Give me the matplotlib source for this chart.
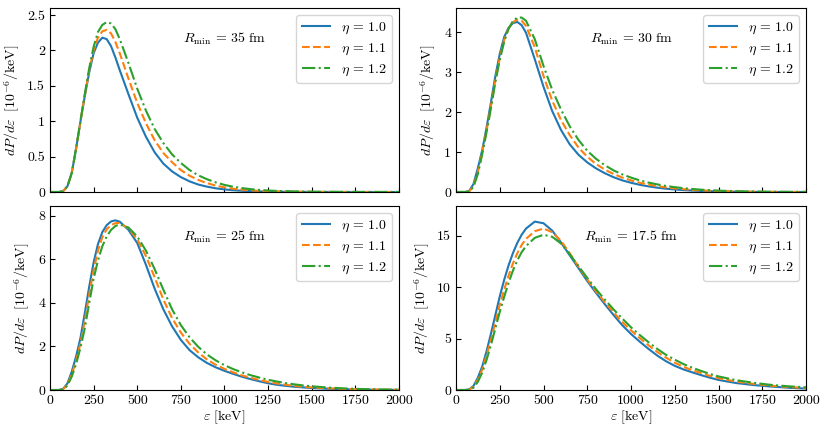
import matplotlib
matplotlib.use('Agg')
import matplotlib.pyplot as plt
from matplotlib.ticker import MultipleLocator, FuncFormatter

# computer modern look
plt.rcParams['mathtext.fontset'] = 'cm'
plt.rcParams['font.family'] = 'serif'
plt.rcParams['font.serif'] = ['cmr10']
plt.rcParams['axes.unicode_minus'] = False
plt.rcParams['font.size'] = 10

# photon energy grid [keV]
eps = [0, 50, 75, 100, 125, 150, 175, 200, 225, 250, 275, 300, 325, 350, 375, 400,
       450, 500, 550, 600, 650, 700, 750, 800, 850, 900, 950,
       1000, 1050, 1100, 1150, 1200, 1250, 1300, 1350, 1400, 1450, 1500,
       1600, 1700, 1800, 1900, 2000]

eta_labels = [r'$\eta\,=\,1.0$', r'$\eta\,=\,1.1$', r'$\eta\,=\,1.2$']
rmin_labels = [r'$R_{\rm min}\,=\,35\ \mathrm{fm}$', r'$R_{\rm min}\,=\,30\ \mathrm{fm}$',
               r'$R_{\rm min}\,=\,25\ \mathrm{fm}$', r'$R_{\rm min}\,=\,17.5\ \mathrm{fm}$']

# dP/deps in 10^-6 / keV
r35_eta10 = [0, 0, 0.01, 0.08, 0.27, 0.62, 1.0, 1.36, 1.69, 1.96, 2.11, 2.18, 2.16, 2.06, 1.9, 1.72,
             1.38, 1.05, 0.78, 0.56, 0.40, 0.29, 0.21, 0.15, 0.105, 0.075, 0.052,
             0.036, 0.025, 0.017, 0.012, 0.008, 0.005, 0.0035, 0.0024, 0.0016, 0.001, 0.0007,
             0.0003, 0.0001, 0, 0, 0]
r35_eta11 = [0, 0, 0.01, 0.08, 0.27, 0.61, 1.0, 1.37, 1.72, 2.0, 2.18, 2.27, 2.29, 2.24, 2.12, 1.96,
             1.6, 1.26, 0.97, 0.73, 0.55, 0.42, 0.31, 0.23, 0.17, 0.125, 0.09,
             0.065, 0.046, 0.033, 0.023, 0.016, 0.011, 0.008, 0.0055, 0.0038, 0.0026, 0.0018,
             0.0008, 0.0003, 0.0001, 0, 0]
r35_eta12 = [0, 0, 0.01, 0.08, 0.27, 0.62, 1.01, 1.39, 1.75, 2.05, 2.26, 2.36, 2.40, 2.38, 2.30, 2.16,
             1.82, 1.46, 1.15, 0.89, 0.69, 0.53, 0.41, 0.31, 0.235, 0.18, 0.135,
             0.1, 0.074, 0.055, 0.04, 0.029, 0.021, 0.015, 0.011, 0.008, 0.0055, 0.004,
             0.002, 0.001, 0.0004, 0.0002, 0.0001]

r30_eta10 = [0, 0, 0.02, 0.2, 0.6, 1.05, 1.62, 2.25, 2.9, 3.45, 3.87, 4.1, 4.22, 4.25, 4.17, 3.98,
             3.32, 2.63, 2.02, 1.55, 1.19, 0.93, 0.74, 0.59, 0.47, 0.37, 0.29,
             0.23, 0.18, 0.14, 0.108, 0.082, 0.062, 0.047, 0.035, 0.026, 0.019, 0.014,
             0.007, 0.003, 0.0015, 0.0006, 0.0003]
r30_eta11 = [0, 0, 0.01, 0.15, 0.5, 1.0, 1.55, 2.15, 2.8, 3.35, 3.8, 4.08, 4.24, 4.31, 4.28, 4.15,
             3.62, 2.9, 2.28, 1.8, 1.42, 1.11, 0.88, 0.7, 0.56, 0.45, 0.36,
             0.29, 0.23, 0.185, 0.145, 0.115, 0.09, 0.07, 0.054, 0.041, 0.031, 0.023,
             0.012, 0.006, 0.003, 0.0015, 0.0007]
r30_eta12 = [0, 0, 0.01, 0.13, 0.45, 0.95, 1.5, 2.1, 2.75, 3.3, 3.75, 4.08, 4.27, 4.36, 4.36, 4.28,
             3.82, 3.15, 2.55, 2.06, 1.64, 1.3, 1.03, 0.83, 0.67, 0.54, 0.44,
             0.36, 0.29, 0.235, 0.19, 0.15, 0.12, 0.095, 0.075, 0.058, 0.045, 0.034,
             0.019, 0.01, 0.005, 0.0025, 0.0012]

r25_eta10 = [0, 0, 0.05, 0.3, 0.85, 1.55, 2.4, 3.55, 4.75, 5.85, 6.7, 7.25, 7.57, 7.74, 7.79, 7.73,
             7.35, 6.75, 5.75, 4.65, 3.7, 2.92, 2.3, 1.83, 1.5, 1.24, 1.04,
             0.88, 0.74, 0.61, 0.5, 0.4, 0.31, 0.24, 0.19, 0.15, 0.12, 0.09,
             0.055, 0.032, 0.018, 0.01, 0.005]
r25_eta11 = [0, 0, 0.03, 0.25, 0.72, 1.35, 2.15, 3.2, 4.4, 5.5, 6.4, 7.02, 7.38, 7.57, 7.66, 7.67,
             7.42, 6.92, 6.15, 5.17, 4.15, 3.3, 2.64, 2.12, 1.72, 1.4, 1.16,
             0.97, 0.81, 0.67, 0.56, 0.46, 0.37, 0.3, 0.24, 0.19, 0.15, 0.12,
             0.075, 0.045, 0.026, 0.015, 0.008]
r25_eta12 = [0, 0, 0.02, 0.2, 0.62, 1.2, 1.95, 2.85, 4.0, 5.1, 5.95, 6.6, 7.05, 7.35, 7.53, 7.6,
             7.46, 7.05, 6.4, 5.55, 4.6, 3.7, 2.98, 2.42, 1.98, 1.63, 1.36,
             1.14, 0.96, 0.81, 0.68, 0.57, 0.47, 0.39, 0.32, 0.26, 0.21, 0.17,
             0.11, 0.068, 0.04, 0.024, 0.014]

r17_eta10 = [0, 0, 0.05, 0.4, 1.2, 2.3, 3.8, 5.5, 7.3, 9.1, 10.7, 12.1, 13.3, 14.3, 15.1, 15.7,
             16.38, 16.22, 15.5, 14.35, 13.1, 11.85, 10.6, 9.45, 8.35, 7.3, 6.3,
             5.45, 4.7, 4.0, 3.35, 2.8, 2.35, 2.0, 1.72, 1.45, 1.2, 0.98,
             0.68, 0.48, 0.34, 0.22, 0.14]
r17_eta11 = [0, 0, 0.03, 0.3, 1.0, 2.0, 3.4, 4.9, 6.6, 8.3, 9.75, 11.1, 12.3, 13.3, 14.1, 14.7,
             15.45, 15.7, 15.35, 14.5, 13.3, 12.0, 10.75, 9.6, 8.55, 7.55, 6.6,
             5.8, 5.05, 4.35, 3.7, 3.15, 2.65, 2.25, 1.93, 1.65, 1.38, 1.15,
             0.82, 0.6, 0.42, 0.29, 0.2]
r17_eta12 = [0, 0, 0.02, 0.22, 0.8, 1.7, 2.95, 4.4, 6.0, 7.6, 9.05, 10.4, 11.6, 12.6, 13.4, 14.0,
             14.8, 15.1, 14.9, 14.25, 13.2, 12.05, 10.9, 9.8, 8.8, 7.85, 6.95,
             6.1, 5.35, 4.65, 4.0, 3.42, 2.95, 2.52, 2.17, 1.86, 1.57, 1.32,
             0.96, 0.7, 0.5, 0.36, 0.26]

panels = [
    [r35_eta10, r35_eta11, r35_eta12],
    [r30_eta10, r30_eta11, r30_eta12],
    [r25_eta10, r25_eta11, r25_eta12],
    [r17_eta10, r17_eta11, r17_eta12],
]
y_tops = [2.6, 4.6, 8.45, 17.9]
y_steps = [0.5, 1, 2, 5]

colors = ['tab:blue', 'tab:orange', 'tab:green']
styles = ['-', '--', '-.']

fig = plt.figure(figsize=(8.3, 4.32), dpi=100)
# axes boxes in figure fractions [left, bottom, width, height]
boxes = [[0.0602, 0.5556, 0.4205, 0.426], [0.5494, 0.5556, 0.4217, 0.426],
         [0.0602, 0.0972, 0.4205, 0.426], [0.5494, 0.0972, 0.4217, 0.426]]

fmt = FuncFormatter(lambda v, p: '%g' % v)

for i in range(4):
    ax = fig.add_axes(boxes[i])
    for j in range(3):
        ax.plot(eps, panels[i][j], color=colors[j], linestyle=styles[j], lw=1.5, label=eta_labels[j])
    ax.set_xlim(0, 2000)
    ax.set_ylim(0, y_tops[i])
    ax.xaxis.set_major_locator(MultipleLocator(250))
    ax.yaxis.set_major_locator(MultipleLocator(y_steps[i]))
    ax.yaxis.set_major_formatter(fmt)
    ax.tick_params(direction='in', labelsize=10)
    if i < 2:
        ax.tick_params(labelbottom=False)
    else:
        ax.xaxis.set_major_formatter(fmt)
        ax.set_xlabel(r'$\varepsilon\ [\mathrm{keV}]$', fontsize=10, labelpad=1)
    ax.set_ylabel(r'$dP/d\varepsilon\ \ [10^{-6}/\mathrm{keV}]$', fontsize=10)
    ax.text(0.5, 0.83, rmin_labels[i], transform=ax.transAxes, ha='center', va='center', fontsize=10)
    ax.legend(loc='upper right', fontsize=10, labelspacing=0.4)

fig.savefig('out.png', dpi=100)
